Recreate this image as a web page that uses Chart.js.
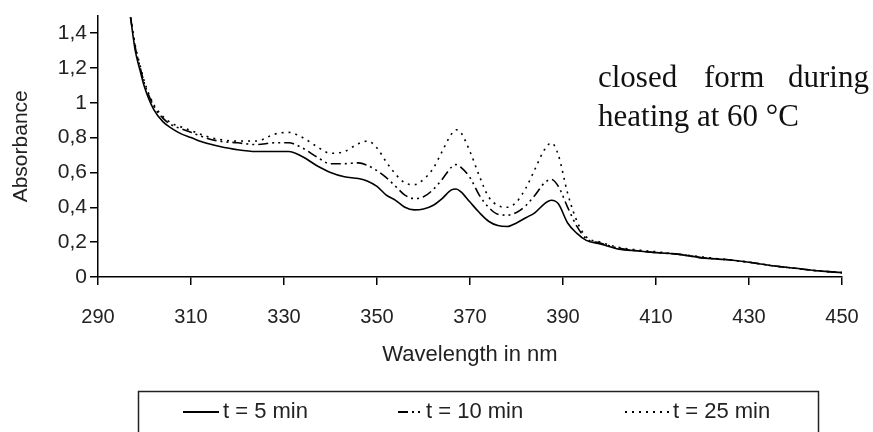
<!DOCTYPE html>
<html>
<head>
<meta charset="utf-8">
<script src="https://cdn.jsdelivr.net/npm/chart.js@4"></script>
<style>
  body { margin: 0; background: #fff; }
  canvas { display: block; }
</style>
</head>
<body>
<canvas id="spectrum" width="873" height="432"></canvas>
<script>
const wavelengths = [297, 298, 299, 300, 302, 304, 306, 308, 310, 313, 316, 320, 324, 328, 331, 334, 337, 340, 343, 346, 348, 350, 352, 354, 356, 358, 360, 362, 364, 366, 367, 368, 370, 372, 374, 376, 378, 380, 382, 384, 386, 387.5, 389, 391, 393, 395, 398, 402, 406, 410, 415, 420, 425, 430, 435, 440, 445, 450];

const abs5min = [1.49, 1.30, 1.19, 1.09, 0.96, 0.89, 0.85, 0.82, 0.80, 0.77, 0.75, 0.73, 0.72, 0.72, 0.72, 0.69, 0.64, 0.60, 0.575, 0.565, 0.55, 0.52, 0.47, 0.44, 0.40, 0.385, 0.39, 0.41, 0.45, 0.50, 0.505, 0.49, 0.43, 0.37, 0.32, 0.295, 0.29, 0.31, 0.34, 0.37, 0.42, 0.44, 0.42, 0.31, 0.25, 0.21, 0.19, 0.16, 0.15, 0.14, 0.13, 0.11, 0.10, 0.085, 0.065, 0.05, 0.035, 0.025];
const abs10min = [1.49, 1.32, 1.21, 1.11, 0.98, 0.91, 0.87, 0.85, 0.83, 0.80, 0.78, 0.77, 0.76, 0.77, 0.77, 0.74, 0.69, 0.65, 0.65, 0.655, 0.64, 0.61, 0.57, 0.52, 0.47, 0.45, 0.46, 0.50, 0.56, 0.63, 0.645, 0.63, 0.57, 0.47, 0.40, 0.36, 0.355, 0.37, 0.41, 0.47, 0.54, 0.56, 0.52, 0.40, 0.29, 0.22, 0.195, 0.165, 0.15, 0.14, 0.13, 0.11, 0.10, 0.085, 0.065, 0.05, 0.035, 0.025];
const abs25min = [1.49, 1.33, 1.22, 1.12, 0.99, 0.92, 0.88, 0.86, 0.84, 0.81, 0.79, 0.78, 0.78, 0.82, 0.83, 0.80, 0.75, 0.71, 0.72, 0.765, 0.78, 0.74, 0.66, 0.59, 0.54, 0.53, 0.56, 0.62, 0.72, 0.82, 0.845, 0.83, 0.72, 0.58, 0.46, 0.41, 0.40, 0.43, 0.51, 0.62, 0.73, 0.77, 0.70, 0.48, 0.32, 0.23, 0.20, 0.17, 0.155, 0.145, 0.13, 0.115, 0.10, 0.085, 0.065, 0.05, 0.035, 0.025];

const seriesLabels = ["t = 5 min", "t = 10 min", "t = 25 min"];
const xTicks = [290, 310, 330, 350, 370, 390, 410, 430, 450];
const yTicks = [0, 0.2, 0.4, 0.6, 0.8, 1, 1.2, 1.4];

const pts = arr => wavelengths.map((w, i) => ({ x: w, y: arr[i] }));

// custom Excel-like legend in a box + the text note
const extras = {
  id: "extras",
  afterDraw(chart) {
    const ctx = chart.ctx;
    ctx.save();
    // legend frame
    ctx.strokeStyle = "#222";
    ctx.lineWidth = 1.5;
    ctx.strokeRect(138.5, 391.5, 680, 60);

    const rowY = 412;
    const slots = [[183, 219, 223], [398, 422, 426], [625, 670, 673]];
    ctx.font = "22px 'Liberation Sans', Arial, sans-serif";
    ctx.textBaseline = "middle";
    ctx.fillStyle = "#222";
    chart.data.datasets.forEach((ds, i) => {
      const [x0, x1, tx] = slots[i];
      ctx.beginPath();
      ctx.setLineDash(ds.borderDash || []);
      ctx.lineWidth = 2;
      ctx.strokeStyle = "#000";
      ctx.moveTo(x0, rowY);
      ctx.lineTo(x1, rowY);
      ctx.stroke();
      ctx.setLineDash([]);
      ctx.fillText(ds.label, tx, rowY);
    });

    // note in the upper right
    ctx.font = "31px 'Liberation Serif', 'Times New Roman', serif";
    ctx.textBaseline = "alphabetic";
    ctx.fillStyle = "#111";
    ctx.textAlign = "left";
    ctx.fillText("closed", 598, 87);
    ctx.fillText("form", 704, 87);
    ctx.fillText("during", 788, 87);
    ctx.fillText("heating at 60 °C", 598, 126);
    ctx.restore();
  }
};

const lineStyle = (label, data, dash) => ({
  label: label,
  data: data,
  borderColor: "#000",
  borderWidth: 1.6,
  borderDash: dash,
  pointRadius: 0,
  fill: false,
  cubicInterpolationMode: "monotone",
});

new Chart(document.getElementById("spectrum").getContext("2d"), {
  type: "line",
  data: {
    datasets: [
      lineStyle(seriesLabels[0], pts(abs5min), []),
      lineStyle(seriesLabels[1], pts(abs10min), [10, 4, 2, 4, 2, 4]),
      lineStyle(seriesLabels[2], pts(abs25min), [2, 5]),
    ],
  },
  options: {
    responsive: false,
    animation: false,
    layout: { padding: { top: 11, right: 31, bottom: 55, left: 0 } },
    plugins: {
      legend: { display: false },
      tooltip: { enabled: false },
    },
    scales: {
      x: {
        type: "linear",
        min: 290,
        max: 450,
        afterBuildTicks: s => { s.ticks = xTicks.map(v => ({ value: v })); },
        afterFit: s => { s.height = 100; s.paddingLeft = 0; s.paddingRight = 0; },
        grid: { drawOnChartArea: false, drawTicks: true, tickLength: 8, color: "#000", lineWidth: 1.5 },
        border: { display: true, color: "#000", width: 1.5 },
        ticks: {
          padding: 20,
          maxRotation: 0,
          color: "#222",
          font: { family: "'Liberation Sans', Arial, sans-serif", size: 20 },
        },
        title: {
          display: true,
          text: "Wavelength in nm",
          color: "#222",
          padding: { top: 0, bottom: 9 },
          font: { family: "'Liberation Sans', Arial, sans-serif", size: 22 },
        },
      },
      y: {
        min: 0,
        max: 1.5,
        afterBuildTicks: s => { s.ticks = yTicks.map(v => ({ value: v })); },
        afterFit: s => { s.width = 98; },
        grid: { drawOnChartArea: false, drawTicks: true, tickLength: 8, color: "#000", lineWidth: 1.5 },
        border: { display: true, color: "#000", width: 1.5 },
        ticks: {
          padding: 3,
          color: "#222",
          font: { family: "'Liberation Sans', Arial, sans-serif", size: 21 },
          callback: v => String(Math.round(v * 10) / 10).replace(".", ","),
        },
        title: {
          display: true,
          text: "Absorbance",
          color: "#222",
          padding: { top: 9, bottom: 0 },
          font: { family: "'Liberation Sans', Arial, sans-serif", size: 21 },
        },
      },
    },
  },
  plugins: [extras],
});
</script>
</body>
</html>
